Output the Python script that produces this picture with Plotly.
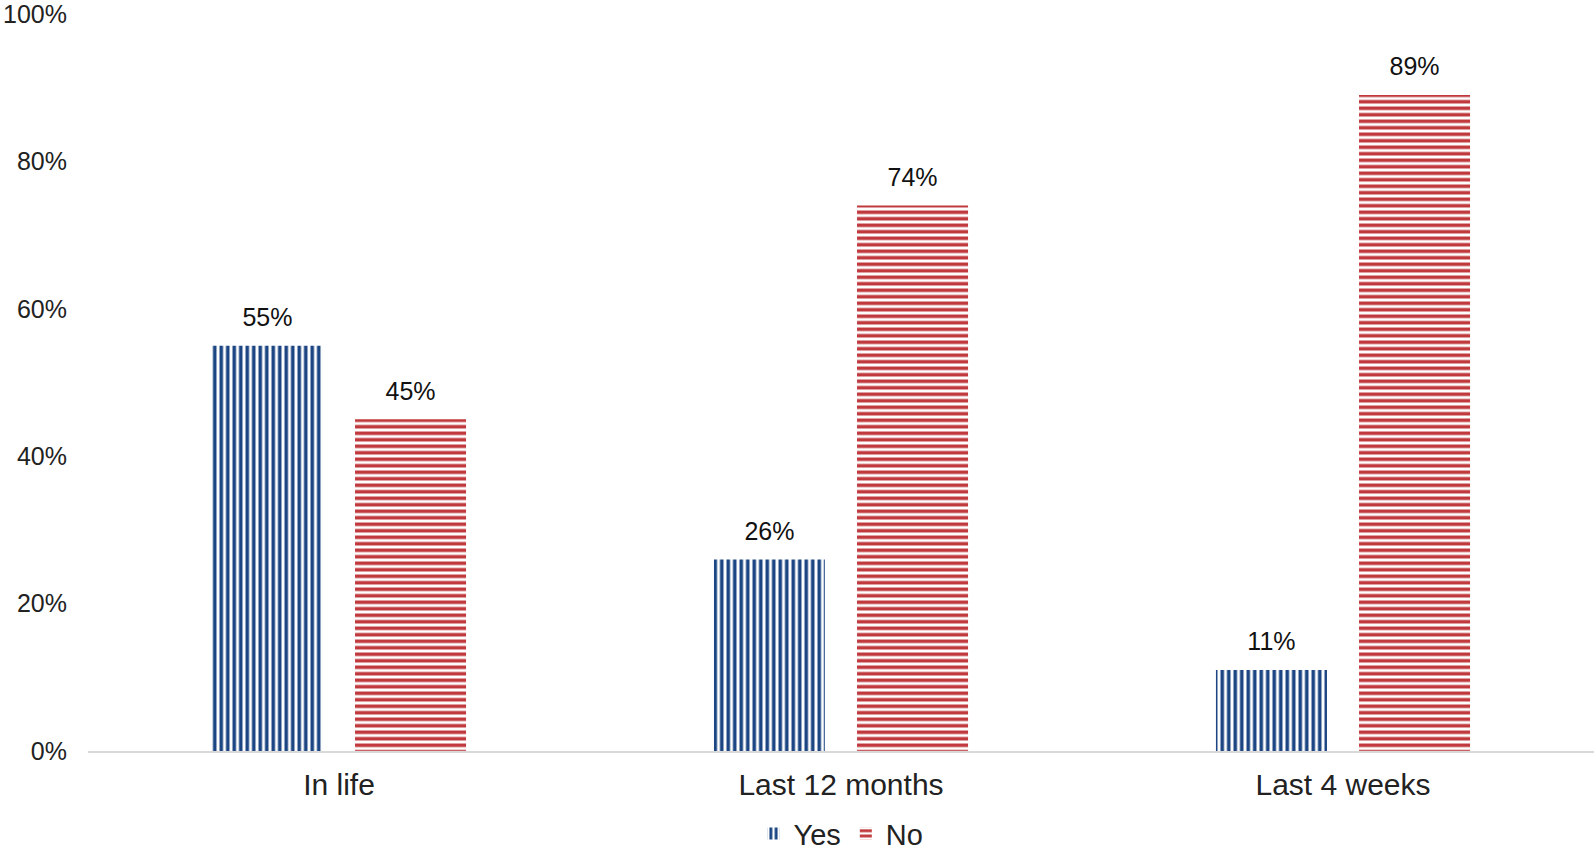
import plotly.graph_objects as go

# ── Data ─────────────────────────────────────────────────────────────────────
CATEGORIES = ["In life", "Last 12 months", "Last 4 weeks"]
YES = [55, 26, 11]
NO = [45, 74, 89]
Y_TICKS = [0, 20, 40, 60, 80, 100]
Y_TICK_LABELS = [f"{v}%" for v in Y_TICKS]

BLUE = "#1C4683"
RED = "#C0393D"
FONT = "Liberation Sans, Arial, sans-serif"


def bar(values, name, color, shape):
    return go.Bar(
        x=CATEGORIES, y=values, name=name, offsetgroup=name,
        marker=dict(color=color, line=dict(width=0),
                    pattern=dict(shape=shape, fgcolor=color, bgcolor="white",
                                 fgopacity=1, size=6.5, solidity=0.55)),
    )


def labels(values, name):
    # invisible markers so the value labels sit a little above the bar tops
    return go.Scatter(
        x=CATEGORIES, y=values, offsetgroup=name, showlegend=False,
        mode="markers+text", text=[f"{v}%" for v in values],
        textposition="top center",
        textfont=dict(size=25, color="#111111"),
        marker=dict(size=20, opacity=0), cliponaxis=False,
        hoverinfo="skip",
    )


fig = go.Figure()
fig.add_trace(bar(YES, "Yes", BLUE, "|"))
fig.add_trace(bar(NO, "No", RED, "-"))
fig.add_trace(labels(YES, "Yes"))
fig.add_trace(labels(NO, "No"))

fig.update_layout(
    width=1594, height=852,
    margin=dict(l=88, r=0, t=14, b=101, autoexpand=False),
    plot_bgcolor="white", paper_bgcolor="white",
    font=dict(family=FONT, color="#222222"),
    barmode="group", bargap=0.43, bargroupgap=0.224,
    scattermode="group", scattergap=0.43,
    showlegend=True,
    legend=dict(orientation="h", x=0.5, xanchor="center",
                y=-0.112, yanchor="middle",
                font=dict(size=29), itemwidth=30,
                traceorder="normal"),
)
fig.update_xaxes(
    showline=True, linecolor="#D9D9D9", linewidth=2,
    showgrid=False, ticks="", tickfont=dict(size=30),
    ticklabelstandoff=6, automargin=False,
)
fig.update_yaxes(
    range=[0, 100], tickmode="array",
    tickvals=Y_TICKS, ticktext=Y_TICK_LABELS,
    showgrid=False, zeroline=False, showline=False,
    tickfont=dict(size=25), ticklabelstandoff=20, automargin=False,
    ticklabeloverflow="allow",
)

# drop the browser's default 8px body margin so the figure fills the window
fig.write_html("out.html", config={"displayModeBar": False},
               post_script="document.body.style.margin='0';")
